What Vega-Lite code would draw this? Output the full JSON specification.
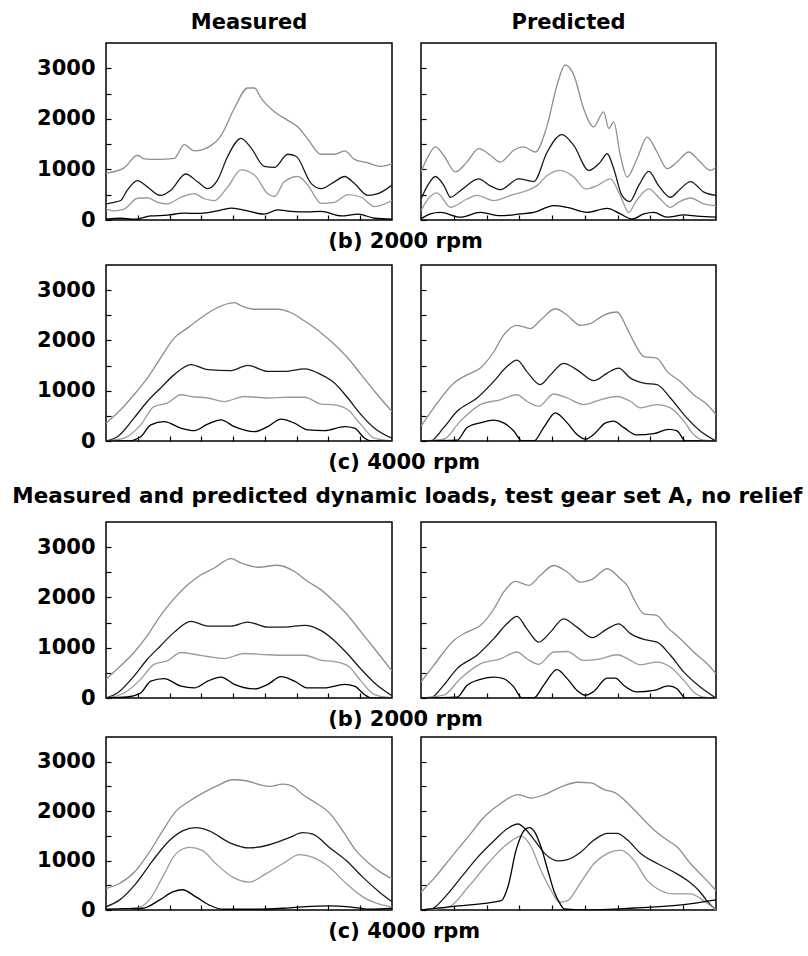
{
  "$schema": "https://vega.github.io/schema/vega-lite/v6.json",
  "padding": {"left": 12, "top": 11, "right": 0, "bottom": 0},
  "background": "white",
  "data": {"values": [
    {"p":"M1","s":"a","x":0,"y":925},{"p":"M1","s":"a","x":0.57,"y":1030},{"p":"M1","s":"a","x":0.99,"y":1280},{"p":"M1","s":"a","x":1.2,"y":1210},{"p":"M1","s":"a","x":1.62,"y":1200},{"p":"M1","s":"a","x":2.15,"y":1220},{"p":"M1","s":"a","x":2.46,"y":1490},{"p":"M1","s":"a","x":2.78,"y":1365},{"p":"M1","s":"a","x":3.3,"y":1470},{"p":"M1","s":"a","x":3.62,"y":1670},{"p":"M1","s":"a","x":4.04,"y":2210},{"p":"M1","s":"a","x":4.46,"y":2610},{"p":"M1","s":"a","x":4.67,"y":2610},{"p":"M1","s":"a","x":4.88,"y":2410},{"p":"M1","s":"a","x":5.3,"y":2140},{"p":"M1","s":"a","x":5.72,"y":1970},{"p":"M1","s":"a","x":6.04,"y":1840},{"p":"M1","s":"a","x":6.35,"y":1600},{"p":"M1","s":"a","x":6.77,"y":1300},{"p":"M1","s":"a","x":7.19,"y":1300},{"p":"M1","s":"a","x":7.51,"y":1365},{"p":"M1","s":"a","x":7.82,"y":1200},{"p":"M1","s":"a","x":8.24,"y":1130},{"p":"M1","s":"a","x":8.66,"y":1060},{"p":"M1","s":"a","x":9,"y":1115},
    {"p":"M1","s":"b","x":0,"y":320},{"p":"M1","s":"b","x":0.25,"y":350},{"p":"M1","s":"b","x":0.46,"y":385},{"p":"M1","s":"b","x":0.67,"y":590},{"p":"M1","s":"b","x":0.99,"y":780},{"p":"M1","s":"b","x":1.3,"y":655},{"p":"M1","s":"b","x":1.72,"y":485},{"p":"M1","s":"b","x":2.04,"y":590},{"p":"M1","s":"b","x":2.51,"y":910},{"p":"M1","s":"b","x":2.88,"y":755},{"p":"M1","s":"b","x":3.2,"y":620},{"p":"M1","s":"b","x":3.51,"y":790},{"p":"M1","s":"b","x":3.83,"y":1260},{"p":"M1","s":"b","x":4.25,"y":1615},{"p":"M1","s":"b","x":4.56,"y":1430},{"p":"M1","s":"b","x":4.98,"y":1060},{"p":"M1","s":"b","x":5.3,"y":1040},{"p":"M1","s":"b","x":5.72,"y":1300},{"p":"M1","s":"b","x":5.98,"y":1260},{"p":"M1","s":"b","x":6.46,"y":720},{"p":"M1","s":"b","x":6.77,"y":620},{"p":"M1","s":"b","x":7.19,"y":755},{"p":"M1","s":"b","x":7.51,"y":860},{"p":"M1","s":"b","x":7.82,"y":720},{"p":"M1","s":"b","x":8.24,"y":485},{"p":"M1","s":"b","x":8.56,"y":520},{"p":"M1","s":"b","x":9,"y":690},
    {"p":"M1","s":"c","x":0,"y":215},{"p":"M1","s":"c","x":0.25,"y":180},{"p":"M1","s":"c","x":0.57,"y":215},{"p":"M1","s":"c","x":0.99,"y":430},{"p":"M1","s":"c","x":1.3,"y":440},{"p":"M1","s":"c","x":1.62,"y":350},{"p":"M1","s":"c","x":1.93,"y":320},{"p":"M1","s":"c","x":2.36,"y":450},{"p":"M1","s":"c","x":2.78,"y":520},{"p":"M1","s":"c","x":3.09,"y":420},{"p":"M1","s":"c","x":3.41,"y":385},{"p":"M1","s":"c","x":3.83,"y":655},{"p":"M1","s":"c","x":4.25,"y":990},{"p":"M1","s":"c","x":4.67,"y":890},{"p":"M1","s":"c","x":5.09,"y":520},{"p":"M1","s":"c","x":5.3,"y":465},{"p":"M1","s":"c","x":5.61,"y":755},{"p":"M1","s":"c","x":6.04,"y":860},{"p":"M1","s":"c","x":6.35,"y":690},{"p":"M1","s":"c","x":6.77,"y":330},{"p":"M1","s":"c","x":7.19,"y":350},{"p":"M1","s":"c","x":7.61,"y":500},{"p":"M1","s":"c","x":8.03,"y":450},{"p":"M1","s":"c","x":8.45,"y":265},{"p":"M1","s":"c","x":9,"y":385},
    {"p":"M1","s":"d","x":0,"y":15},{"p":"M1","s":"d","x":0.46,"y":35},{"p":"M1","s":"d","x":0.88,"y":15},{"p":"M1","s":"d","x":1.41,"y":80},{"p":"M1","s":"d","x":1.93,"y":95},{"p":"M1","s":"d","x":2.46,"y":135},{"p":"M1","s":"d","x":2.99,"y":130},{"p":"M1","s":"d","x":3.51,"y":180},{"p":"M1","s":"d","x":3.93,"y":235},{"p":"M1","s":"d","x":4.35,"y":195},{"p":"M1","s":"d","x":4.98,"y":115},{"p":"M1","s":"d","x":5.4,"y":200},{"p":"M1","s":"d","x":5.82,"y":170},{"p":"M1","s":"d","x":6.35,"y":160},{"p":"M1","s":"d","x":6.77,"y":170},{"p":"M1","s":"d","x":7.4,"y":80},{"p":"M1","s":"d","x":7.93,"y":115},{"p":"M1","s":"d","x":8.45,"y":35},{"p":"M1","s":"d","x":9,"y":15},

    {"p":"P1","s":"a","x":0,"y":950},{"p":"P1","s":"a","x":0.18,"y":1210},{"p":"P1","s":"a","x":0.44,"y":1445},{"p":"P1","s":"a","x":0.69,"y":1280},{"p":"P1","s":"a","x":1.05,"y":950},{"p":"P1","s":"a","x":1.4,"y":1145},{"p":"P1","s":"a","x":1.76,"y":1410},{"p":"P1","s":"a","x":2.12,"y":1280},{"p":"P1","s":"a","x":2.42,"y":1145},{"p":"P1","s":"a","x":2.83,"y":1380},{"p":"P1","s":"a","x":3.13,"y":1445},{"p":"P1","s":"a","x":3.49,"y":1345},{"p":"P1","s":"a","x":3.85,"y":1875},{"p":"P1","s":"a","x":4.15,"y":2670},{"p":"P1","s":"a","x":4.4,"y":3065},{"p":"P1","s":"a","x":4.66,"y":2870},{"p":"P1","s":"a","x":4.96,"y":2205},{"p":"P1","s":"a","x":5.27,"y":1840},{"p":"P1","s":"a","x":5.57,"y":2140},{"p":"P1","s":"a","x":5.73,"y":1810},{"p":"P1","s":"a","x":5.88,"y":1940},{"p":"P1","s":"a","x":6.08,"y":1280},{"p":"P1","s":"a","x":6.29,"y":850},{"p":"P1","s":"a","x":6.59,"y":1210},{"p":"P1","s":"a","x":6.9,"y":1640},{"p":"P1","s":"a","x":7.2,"y":1345},{"p":"P1","s":"a","x":7.51,"y":1015},{"p":"P1","s":"a","x":7.81,"y":1145},{"p":"P1","s":"a","x":8.17,"y":1345},{"p":"P1","s":"a","x":8.52,"y":1145},{"p":"P1","s":"a","x":8.83,"y":980},{"p":"P1","s":"a","x":9,"y":1045},
    {"p":"P1","s":"b","x":0,"y":415},{"p":"P1","s":"b","x":0.2,"y":680},{"p":"P1","s":"b","x":0.44,"y":860},{"p":"P1","s":"b","x":0.7,"y":680},{"p":"P1","s":"b","x":0.9,"y":450},{"p":"P1","s":"b","x":1.2,"y":580},{"p":"P1","s":"b","x":1.76,"y":815},{"p":"P1","s":"b","x":2.1,"y":680},{"p":"P1","s":"b","x":2.42,"y":600},{"p":"P1","s":"b","x":2.98,"y":815},{"p":"P1","s":"b","x":3.44,"y":760},{"p":"P1","s":"b","x":3.85,"y":1345},{"p":"P1","s":"b","x":4.3,"y":1690},{"p":"P1","s":"b","x":4.66,"y":1475},{"p":"P1","s":"b","x":5.12,"y":980},{"p":"P1","s":"b","x":5.47,"y":1145},{"p":"P1","s":"b","x":5.68,"y":1310},{"p":"P1","s":"b","x":5.88,"y":1015},{"p":"P1","s":"b","x":6.13,"y":485},{"p":"P1","s":"b","x":6.37,"y":365},{"p":"P1","s":"b","x":6.64,"y":680},{"p":"P1","s":"b","x":6.95,"y":960},{"p":"P1","s":"b","x":7.25,"y":680},{"p":"P1","s":"b","x":7.61,"y":450},{"p":"P1","s":"b","x":7.91,"y":615},{"p":"P1","s":"b","x":8.22,"y":760},{"p":"P1","s":"b","x":8.63,"y":550},{"p":"P1","s":"b","x":9,"y":485},
    {"p":"P1","s":"c","x":0,"y":185},{"p":"P1","s":"c","x":0.18,"y":385},{"p":"P1","s":"c","x":0.49,"y":535},{"p":"P1","s":"c","x":0.9,"y":250},{"p":"P1","s":"c","x":1.4,"y":415},{"p":"P1","s":"c","x":1.71,"y":485},{"p":"P1","s":"c","x":2.22,"y":385},{"p":"P1","s":"c","x":2.73,"y":485},{"p":"P1","s":"c","x":3.23,"y":580},{"p":"P1","s":"c","x":3.54,"y":680},{"p":"P1","s":"c","x":3.85,"y":880},{"p":"P1","s":"c","x":4.25,"y":980},{"p":"P1","s":"c","x":4.66,"y":850},{"p":"P1","s":"c","x":5.02,"y":615},{"p":"P1","s":"c","x":5.37,"y":680},{"p":"P1","s":"c","x":5.78,"y":815},{"p":"P1","s":"c","x":6.08,"y":485},{"p":"P1","s":"c","x":6.34,"y":150},{"p":"P1","s":"c","x":6.54,"y":350},{"p":"P1","s":"c","x":6.95,"y":615},{"p":"P1","s":"c","x":7.3,"y":415},{"p":"P1","s":"c","x":7.61,"y":250},{"p":"P1","s":"c","x":7.86,"y":350},{"p":"P1","s":"c","x":8.22,"y":435},{"p":"P1","s":"c","x":8.63,"y":320},{"p":"P1","s":"c","x":9,"y":285},
    {"p":"P1","s":"d","x":0,"y":20},{"p":"P1","s":"d","x":0.28,"y":120},{"p":"P1","s":"d","x":0.59,"y":150},{"p":"P1","s":"d","x":1.2,"y":55},{"p":"P1","s":"d","x":1.81,"y":150},{"p":"P1","s":"d","x":2.42,"y":85},{"p":"P1","s":"d","x":3.03,"y":120},{"p":"P1","s":"d","x":3.44,"y":150},{"p":"P1","s":"d","x":4.05,"y":285},{"p":"P1","s":"d","x":4.46,"y":250},{"p":"P1","s":"d","x":5.07,"y":150},{"p":"P1","s":"d","x":5.68,"y":230},{"p":"P1","s":"d","x":6.08,"y":120},{"p":"P1","s":"d","x":6.44,"y":20},{"p":"P1","s":"d","x":6.8,"y":120},{"p":"P1","s":"d","x":7.1,"y":150},{"p":"P1","s":"d","x":7.51,"y":55},{"p":"P1","s":"d","x":8.02,"y":100},{"p":"P1","s":"d","x":8.42,"y":75},{"p":"P1","s":"d","x":9,"y":55},

    {"p":"M2","s":"a","x":0,"y":355},{"p":"M2","s":"a","x":0.46,"y":620},{"p":"M2","s":"a","x":0.88,"y":920},{"p":"M2","s":"a","x":1.3,"y":1250},{"p":"M2","s":"a","x":1.72,"y":1655},{"p":"M2","s":"a","x":2.15,"y":2050},{"p":"M2","s":"a","x":2.57,"y":2250},{"p":"M2","s":"a","x":2.99,"y":2450},{"p":"M2","s":"a","x":3.41,"y":2620},{"p":"M2","s":"a","x":4.04,"y":2750},{"p":"M2","s":"a","x":4.25,"y":2690},{"p":"M2","s":"a","x":4.67,"y":2620},{"p":"M2","s":"a","x":5.4,"y":2620},{"p":"M2","s":"a","x":5.83,"y":2550},{"p":"M2","s":"a","x":6.25,"y":2385},{"p":"M2","s":"a","x":6.77,"y":2150},{"p":"M2","s":"a","x":7.19,"y":1920},{"p":"M2","s":"a","x":7.61,"y":1650},{"p":"M2","s":"a","x":8.03,"y":1320},{"p":"M2","s":"a","x":8.45,"y":990},{"p":"M2","s":"a","x":9,"y":585},
    {"p":"M2","s":"b","x":0,"y":0},{"p":"M2","s":"b","x":0.36,"y":85},{"p":"M2","s":"b","x":0.88,"y":455},{"p":"M2","s":"b","x":1.3,"y":785},{"p":"M2","s":"b","x":1.72,"y":1055},{"p":"M2","s":"b","x":2.15,"y":1320},{"p":"M2","s":"b","x":2.67,"y":1520},{"p":"M2","s":"b","x":3.2,"y":1420},{"p":"M2","s":"b","x":3.93,"y":1400},{"p":"M2","s":"b","x":4.46,"y":1505},{"p":"M2","s":"b","x":5.09,"y":1385},{"p":"M2","s":"b","x":5.62,"y":1385},{"p":"M2","s":"b","x":6.25,"y":1435},{"p":"M2","s":"b","x":6.77,"y":1320},{"p":"M2","s":"b","x":7.19,"y":1155},{"p":"M2","s":"b","x":7.61,"y":855},{"p":"M2","s":"b","x":8.03,"y":520},{"p":"M2","s":"b","x":8.45,"y":255},{"p":"M2","s":"b","x":9,"y":55},
    {"p":"M2","s":"c","x":0,"y":0},{"p":"M2","s":"c","x":0.57,"y":55},{"p":"M2","s":"c","x":1.09,"y":320},{"p":"M2","s":"c","x":1.51,"y":685},{"p":"M2","s":"c","x":1.93,"y":755},{"p":"M2","s":"c","x":2.36,"y":920},{"p":"M2","s":"c","x":2.67,"y":885},{"p":"M2","s":"c","x":3.2,"y":855},{"p":"M2","s":"c","x":3.72,"y":785},{"p":"M2","s":"c","x":4.35,"y":885},{"p":"M2","s":"c","x":5.09,"y":855},{"p":"M2","s":"c","x":5.72,"y":870},{"p":"M2","s":"c","x":6.25,"y":870},{"p":"M2","s":"c","x":6.77,"y":735},{"p":"M2","s":"c","x":7.19,"y":720},{"p":"M2","s":"c","x":7.61,"y":620},{"p":"M2","s":"c","x":8.03,"y":320},{"p":"M2","s":"c","x":8.45,"y":55},{"p":"M2","s":"c","x":9,"y":0},
    {"p":"M2","s":"d","x":0,"y":0},{"p":"M2","s":"d","x":0.67,"y":0},{"p":"M2","s":"d","x":1.09,"y":85},{"p":"M2","s":"d","x":1.41,"y":320},{"p":"M2","s":"d","x":1.83,"y":385},{"p":"M2","s":"d","x":2.36,"y":255},{"p":"M2","s":"d","x":2.78,"y":205},{"p":"M2","s":"d","x":3.2,"y":335},{"p":"M2","s":"d","x":3.62,"y":420},{"p":"M2","s":"d","x":4.04,"y":285},{"p":"M2","s":"d","x":4.67,"y":185},{"p":"M2","s":"d","x":5.09,"y":285},{"p":"M2","s":"d","x":5.51,"y":435},{"p":"M2","s":"d","x":5.93,"y":355},{"p":"M2","s":"d","x":6.35,"y":220},{"p":"M2","s":"d","x":6.88,"y":205},{"p":"M2","s":"d","x":7.51,"y":285},{"p":"M2","s":"d","x":7.82,"y":255},{"p":"M2","s":"d","x":8.14,"y":55},{"p":"M2","s":"d","x":8.35,"y":0},{"p":"M2","s":"d","x":9,"y":0},

    {"p":"P2","s":"a","x":0,"y":295},{"p":"P2","s":"a","x":0.39,"y":660},{"p":"P2","s":"a","x":1,"y":1150},{"p":"P2","s":"a","x":1.4,"y":1315},{"p":"P2","s":"a","x":1.81,"y":1450},{"p":"P2","s":"a","x":2.22,"y":1775},{"p":"P2","s":"a","x":2.52,"y":2105},{"p":"P2","s":"a","x":2.93,"y":2300},{"p":"P2","s":"a","x":3.34,"y":2235},{"p":"P2","s":"a","x":3.64,"y":2400},{"p":"P2","s":"a","x":4.1,"y":2630},{"p":"P2","s":"a","x":4.46,"y":2500},{"p":"P2","s":"a","x":4.86,"y":2300},{"p":"P2","s":"a","x":5.17,"y":2335},{"p":"P2","s":"a","x":5.57,"y":2500},{"p":"P2","s":"a","x":5.98,"y":2565},{"p":"P2","s":"a","x":6.29,"y":2235},{"p":"P2","s":"a","x":6.49,"y":1975},{"p":"P2","s":"a","x":6.8,"y":1680},{"p":"P2","s":"a","x":7.2,"y":1645},{"p":"P2","s":"a","x":7.51,"y":1380},{"p":"P2","s":"a","x":7.91,"y":1185},{"p":"P2","s":"a","x":8.32,"y":920},{"p":"P2","s":"a","x":8.73,"y":725},{"p":"P2","s":"a","x":9,"y":525},
    {"p":"P2","s":"b","x":0,"y":0},{"p":"P2","s":"b","x":0.28,"y":0},{"p":"P2","s":"b","x":0.69,"y":265},{"p":"P2","s":"b","x":1.1,"y":590},{"p":"P2","s":"b","x":1.71,"y":855},{"p":"P2","s":"b","x":2.22,"y":1185},{"p":"P2","s":"b","x":2.62,"y":1480},{"p":"P2","s":"b","x":2.93,"y":1610},{"p":"P2","s":"b","x":3.23,"y":1380},{"p":"P2","s":"b","x":3.64,"y":1120},{"p":"P2","s":"b","x":3.95,"y":1315},{"p":"P2","s":"b","x":4.35,"y":1545},{"p":"P2","s":"b","x":4.76,"y":1415},{"p":"P2","s":"b","x":5.27,"y":1200},{"p":"P2","s":"b","x":5.68,"y":1350},{"p":"P2","s":"b","x":6.03,"y":1450},{"p":"P2","s":"b","x":6.39,"y":1250},{"p":"P2","s":"b","x":6.8,"y":1150},{"p":"P2","s":"b","x":7.2,"y":1120},{"p":"P2","s":"b","x":7.61,"y":855},{"p":"P2","s":"b","x":8.02,"y":525},{"p":"P2","s":"b","x":8.52,"y":200},{"p":"P2","s":"b","x":9,"y":0},
    {"p":"P2","s":"c","x":0,"y":0},{"p":"P2","s":"c","x":0.69,"y":35},{"p":"P2","s":"c","x":1.2,"y":395},{"p":"P2","s":"c","x":1.81,"y":725},{"p":"P2","s":"c","x":2.42,"y":820},{"p":"P2","s":"c","x":2.93,"y":920},{"p":"P2","s":"c","x":3.23,"y":790},{"p":"P2","s":"c","x":3.59,"y":690},{"p":"P2","s":"c","x":4.05,"y":935},{"p":"P2","s":"c","x":4.46,"y":855},{"p":"P2","s":"c","x":4.96,"y":725},{"p":"P2","s":"c","x":5.47,"y":820},{"p":"P2","s":"c","x":5.98,"y":885},{"p":"P2","s":"c","x":6.39,"y":790},{"p":"P2","s":"c","x":6.69,"y":660},{"p":"P2","s":"c","x":7.2,"y":725},{"p":"P2","s":"c","x":7.61,"y":660},{"p":"P2","s":"c","x":8.02,"y":395},{"p":"P2","s":"c","x":8.32,"y":130},{"p":"P2","s":"c","x":8.63,"y":15},{"p":"P2","s":"c","x":9,"y":0},
    {"p":"P2","s":"d","x":0,"y":0},{"p":"P2","s":"d","x":1.1,"y":15},{"p":"P2","s":"d","x":1.4,"y":265},{"p":"P2","s":"d","x":1.81,"y":360},{"p":"P2","s":"d","x":2.22,"y":415},{"p":"P2","s":"d","x":2.52,"y":360},{"p":"P2","s":"d","x":2.83,"y":200},{"p":"P2","s":"d","x":3.08,"y":0},{"p":"P2","s":"d","x":3.44,"y":0},{"p":"P2","s":"d","x":3.74,"y":265},{"p":"P2","s":"d","x":4.1,"y":560},{"p":"P2","s":"d","x":4.46,"y":360},{"p":"P2","s":"d","x":4.76,"y":130},{"p":"P2","s":"d","x":5.02,"y":35},{"p":"P2","s":"d","x":5.27,"y":130},{"p":"P2","s":"d","x":5.63,"y":360},{"p":"P2","s":"d","x":5.88,"y":395},{"p":"P2","s":"d","x":6.19,"y":265},{"p":"P2","s":"d","x":6.59,"y":120},{"p":"P2","s":"d","x":7.1,"y":145},{"p":"P2","s":"d","x":7.56,"y":230},{"p":"P2","s":"d","x":7.81,"y":200},{"p":"P2","s":"d","x":8.07,"y":0},{"p":"P2","s":"d","x":9,"y":0},

    {"p":"M3","s":"a","x":0,"y":370},{"p":"M3","s":"a","x":0.46,"y":640},{"p":"M3","s":"a","x":0.88,"y":905},{"p":"M3","s":"a","x":1.3,"y":1240},{"p":"M3","s":"a","x":1.72,"y":1645},{"p":"M3","s":"a","x":2.15,"y":1980},{"p":"M3","s":"a","x":2.57,"y":2250},{"p":"M3","s":"a","x":2.99,"y":2450},{"p":"M3","s":"a","x":3.41,"y":2585},{"p":"M3","s":"a","x":3.93,"y":2770},{"p":"M3","s":"a","x":4.25,"y":2685},{"p":"M3","s":"a","x":4.77,"y":2600},{"p":"M3","s":"a","x":5.4,"y":2640},{"p":"M3","s":"a","x":5.93,"y":2515},{"p":"M3","s":"a","x":6.35,"y":2315},{"p":"M3","s":"a","x":6.77,"y":2150},{"p":"M3","s":"a","x":7.19,"y":1910},{"p":"M3","s":"a","x":7.61,"y":1645},{"p":"M3","s":"a","x":8.03,"y":1310},{"p":"M3","s":"a","x":8.45,"y":980},{"p":"M3","s":"a","x":9,"y":535},
    {"p":"M3","s":"b","x":0,"y":0},{"p":"M3","s":"b","x":0.36,"y":100},{"p":"M3","s":"b","x":0.88,"y":435},{"p":"M3","s":"b","x":1.3,"y":770},{"p":"M3","s":"b","x":1.72,"y":1040},{"p":"M3","s":"b","x":2.15,"y":1310},{"p":"M3","s":"b","x":2.67,"y":1525},{"p":"M3","s":"b","x":3.2,"y":1430},{"p":"M3","s":"b","x":3.93,"y":1430},{"p":"M3","s":"b","x":4.46,"y":1510},{"p":"M3","s":"b","x":5.09,"y":1410},{"p":"M3","s":"b","x":5.62,"y":1410},{"p":"M3","s":"b","x":6.25,"y":1445},{"p":"M3","s":"b","x":6.77,"y":1340},{"p":"M3","s":"b","x":7.19,"y":1140},{"p":"M3","s":"b","x":7.61,"y":870},{"p":"M3","s":"b","x":8.03,"y":570},{"p":"M3","s":"b","x":8.45,"y":300},{"p":"M3","s":"b","x":9,"y":45},
    {"p":"M3","s":"c","x":0,"y":0},{"p":"M3","s":"c","x":0.57,"y":100},{"p":"M3","s":"c","x":1.09,"y":370},{"p":"M3","s":"c","x":1.51,"y":670},{"p":"M3","s":"c","x":1.93,"y":740},{"p":"M3","s":"c","x":2.36,"y":905},{"p":"M3","s":"c","x":2.78,"y":870},{"p":"M3","s":"c","x":3.2,"y":825},{"p":"M3","s":"c","x":3.72,"y":785},{"p":"M3","s":"c","x":4.35,"y":885},{"p":"M3","s":"c","x":5.09,"y":860},{"p":"M3","s":"c","x":5.72,"y":850},{"p":"M3","s":"c","x":6.25,"y":850},{"p":"M3","s":"c","x":6.77,"y":750},{"p":"M3","s":"c","x":7.19,"y":725},{"p":"M3","s":"c","x":7.61,"y":640},{"p":"M3","s":"c","x":8.03,"y":335},{"p":"M3","s":"c","x":8.45,"y":65},{"p":"M3","s":"c","x":9,"y":0},
    {"p":"M3","s":"d","x":0,"y":0},{"p":"M3","s":"d","x":0.67,"y":20},{"p":"M3","s":"d","x":1.09,"y":100},{"p":"M3","s":"d","x":1.41,"y":335},{"p":"M3","s":"d","x":1.83,"y":385},{"p":"M3","s":"d","x":2.36,"y":235},{"p":"M3","s":"d","x":2.78,"y":200},{"p":"M3","s":"d","x":3.2,"y":335},{"p":"M3","s":"d","x":3.62,"y":415},{"p":"M3","s":"d","x":4.04,"y":270},{"p":"M3","s":"d","x":4.67,"y":180},{"p":"M3","s":"d","x":5.09,"y":270},{"p":"M3","s":"d","x":5.51,"y":425},{"p":"M3","s":"d","x":5.93,"y":335},{"p":"M3","s":"d","x":6.35,"y":200},{"p":"M3","s":"d","x":6.88,"y":200},{"p":"M3","s":"d","x":7.51,"y":270},{"p":"M3","s":"d","x":7.82,"y":235},{"p":"M3","s":"d","x":8.14,"y":65},{"p":"M3","s":"d","x":8.35,"y":0},{"p":"M3","s":"d","x":9,"y":0},

    {"p":"P3","s":"a","x":0,"y":320},{"p":"P3","s":"a","x":0.39,"y":650},{"p":"P3","s":"a","x":1,"y":1145},{"p":"P3","s":"a","x":1.4,"y":1310},{"p":"P3","s":"a","x":1.81,"y":1440},{"p":"P3","s":"a","x":2.22,"y":1770},{"p":"P3","s":"a","x":2.52,"y":2105},{"p":"P3","s":"a","x":2.88,"y":2320},{"p":"P3","s":"a","x":3.29,"y":2240},{"p":"P3","s":"a","x":3.64,"y":2440},{"p":"P3","s":"a","x":4.05,"y":2635},{"p":"P3","s":"a","x":4.46,"y":2505},{"p":"P3","s":"a","x":4.86,"y":2305},{"p":"P3","s":"a","x":5.22,"y":2360},{"p":"P3","s":"a","x":5.68,"y":2570},{"p":"P3","s":"a","x":6.08,"y":2370},{"p":"P3","s":"a","x":6.29,"y":2240},{"p":"P3","s":"a","x":6.49,"y":1975},{"p":"P3","s":"a","x":6.8,"y":1675},{"p":"P3","s":"a","x":7.2,"y":1640},{"p":"P3","s":"a","x":7.51,"y":1410},{"p":"P3","s":"a","x":7.91,"y":1180},{"p":"P3","s":"a","x":8.32,"y":915},{"p":"P3","s":"a","x":8.73,"y":680},{"p":"P3","s":"a","x":9,"y":485},
    {"p":"P3","s":"b","x":0,"y":0},{"p":"P3","s":"b","x":0.28,"y":0},{"p":"P3","s":"b","x":0.69,"y":250},{"p":"P3","s":"b","x":1.1,"y":585},{"p":"P3","s":"b","x":1.71,"y":850},{"p":"P3","s":"b","x":2.22,"y":1180},{"p":"P3","s":"b","x":2.62,"y":1475},{"p":"P3","s":"b","x":2.93,"y":1625},{"p":"P3","s":"b","x":3.23,"y":1375},{"p":"P3","s":"b","x":3.59,"y":1110},{"p":"P3","s":"b","x":3.95,"y":1310},{"p":"P3","s":"b","x":4.35,"y":1575},{"p":"P3","s":"b","x":4.76,"y":1410},{"p":"P3","s":"b","x":5.22,"y":1200},{"p":"P3","s":"b","x":5.68,"y":1375},{"p":"P3","s":"b","x":6.03,"y":1475},{"p":"P3","s":"b","x":6.39,"y":1280},{"p":"P3","s":"b","x":6.8,"y":1165},{"p":"P3","s":"b","x":7.2,"y":1110},{"p":"P3","s":"b","x":7.61,"y":850},{"p":"P3","s":"b","x":8.02,"y":515},{"p":"P3","s":"b","x":8.52,"y":220},{"p":"P3","s":"b","x":9,"y":0},
    {"p":"P3","s":"c","x":0,"y":0},{"p":"P3","s":"c","x":0.69,"y":55},{"p":"P3","s":"c","x":1.2,"y":385},{"p":"P3","s":"c","x":1.81,"y":680},{"p":"P3","s":"c","x":2.42,"y":780},{"p":"P3","s":"c","x":2.93,"y":915},{"p":"P3","s":"c","x":3.23,"y":780},{"p":"P3","s":"c","x":3.59,"y":670},{"p":"P3","s":"c","x":4.05,"y":915},{"p":"P3","s":"c","x":4.46,"y":925},{"p":"P3","s":"c","x":4.96,"y":750},{"p":"P3","s":"c","x":5.47,"y":780},{"p":"P3","s":"c","x":5.98,"y":860},{"p":"P3","s":"c","x":6.39,"y":750},{"p":"P3","s":"c","x":6.69,"y":660},{"p":"P3","s":"c","x":7.2,"y":715},{"p":"P3","s":"c","x":7.61,"y":615},{"p":"P3","s":"c","x":8.02,"y":350},{"p":"P3","s":"c","x":8.32,"y":120},{"p":"P3","s":"c","x":8.63,"y":15},{"p":"P3","s":"c","x":9,"y":0},
    {"p":"P3","s":"d","x":0,"y":0},{"p":"P3","s":"d","x":1.1,"y":15},{"p":"P3","s":"d","x":1.4,"y":250},{"p":"P3","s":"d","x":1.81,"y":370},{"p":"P3","s":"d","x":2.22,"y":415},{"p":"P3","s":"d","x":2.52,"y":385},{"p":"P3","s":"d","x":2.83,"y":220},{"p":"P3","s":"d","x":3.08,"y":0},{"p":"P3","s":"d","x":3.44,"y":0},{"p":"P3","s":"d","x":3.74,"y":250},{"p":"P3","s":"d","x":4.15,"y":565},{"p":"P3","s":"d","x":4.46,"y":385},{"p":"P3","s":"d","x":4.76,"y":150},{"p":"P3","s":"d","x":5.02,"y":55},{"p":"P3","s":"d","x":5.27,"y":130},{"p":"P3","s":"d","x":5.68,"y":395},{"p":"P3","s":"d","x":5.93,"y":395},{"p":"P3","s":"d","x":6.19,"y":250},{"p":"P3","s":"d","x":6.59,"y":120},{"p":"P3","s":"d","x":7.1,"y":150},{"p":"P3","s":"d","x":7.56,"y":240},{"p":"P3","s":"d","x":7.81,"y":185},{"p":"P3","s":"d","x":8.07,"y":0},{"p":"P3","s":"d","x":9,"y":0},

    {"p":"M4","s":"a","x":0,"y":435},{"p":"M4","s":"a","x":0.42,"y":535},{"p":"M4","s":"a","x":0.94,"y":800},{"p":"M4","s":"a","x":1.36,"y":1165},{"p":"M4","s":"a","x":1.78,"y":1600},{"p":"M4","s":"a","x":2.2,"y":2000},{"p":"M4","s":"a","x":2.62,"y":2200},{"p":"M4","s":"a","x":3.04,"y":2365},{"p":"M4","s":"a","x":3.46,"y":2500},{"p":"M4","s":"a","x":3.99,"y":2635},{"p":"M4","s":"a","x":4.41,"y":2615},{"p":"M4","s":"a","x":4.83,"y":2535},{"p":"M4","s":"a","x":5.14,"y":2500},{"p":"M4","s":"a","x":5.56,"y":2545},{"p":"M4","s":"a","x":5.88,"y":2500},{"p":"M4","s":"a","x":6.19,"y":2335},{"p":"M4","s":"a","x":6.61,"y":2165},{"p":"M4","s":"a","x":7.03,"y":1965},{"p":"M4","s":"a","x":7.45,"y":1600},{"p":"M4","s":"a","x":7.87,"y":1200},{"p":"M4","s":"a","x":8.29,"y":935},{"p":"M4","s":"a","x":8.71,"y":735},{"p":"M4","s":"a","x":9,"y":635},
    {"p":"M4","s":"b","x":0,"y":65},{"p":"M4","s":"b","x":0.42,"y":200},{"p":"M4","s":"b","x":0.94,"y":535},{"p":"M4","s":"b","x":1.47,"y":1000},{"p":"M4","s":"b","x":1.99,"y":1400},{"p":"M4","s":"b","x":2.41,"y":1600},{"p":"M4","s":"b","x":2.83,"y":1665},{"p":"M4","s":"b","x":3.25,"y":1600},{"p":"M4","s":"b","x":3.88,"y":1365},{"p":"M4","s":"b","x":4.51,"y":1255},{"p":"M4","s":"b","x":5.14,"y":1320},{"p":"M4","s":"b","x":5.77,"y":1465},{"p":"M4","s":"b","x":6.19,"y":1565},{"p":"M4","s":"b","x":6.51,"y":1535},{"p":"M4","s":"b","x":7.03,"y":1265},{"p":"M4","s":"b","x":7.56,"y":1000},{"p":"M4","s":"b","x":8.08,"y":665},{"p":"M4","s":"b","x":8.6,"y":365},{"p":"M4","s":"b","x":9,"y":165},
    {"p":"M4","s":"c","x":0,"y":0},{"p":"M4","s":"c","x":0.94,"y":35},{"p":"M4","s":"c","x":1.36,"y":200},{"p":"M4","s":"c","x":1.78,"y":665},{"p":"M4","s":"c","x":2.2,"y":1135},{"p":"M4","s":"c","x":2.62,"y":1265},{"p":"M4","s":"c","x":3.04,"y":1200},{"p":"M4","s":"c","x":3.46,"y":935},{"p":"M4","s":"c","x":3.99,"y":665},{"p":"M4","s":"c","x":4.51,"y":565},{"p":"M4","s":"c","x":5.04,"y":735},{"p":"M4","s":"c","x":5.56,"y":935},{"p":"M4","s":"c","x":6.09,"y":1120},{"p":"M4","s":"c","x":6.51,"y":1065},{"p":"M4","s":"c","x":7.03,"y":865},{"p":"M4","s":"c","x":7.56,"y":535},{"p":"M4","s":"c","x":8.08,"y":265},{"p":"M4","s":"c","x":8.6,"y":120},{"p":"M4","s":"c","x":9,"y":65},
    {"p":"M4","s":"d","x":0,"y":15},{"p":"M4","s":"d","x":1.15,"y":35},{"p":"M4","s":"d","x":1.68,"y":200},{"p":"M4","s":"d","x":2.1,"y":365},{"p":"M4","s":"d","x":2.41,"y":410},{"p":"M4","s":"d","x":2.83,"y":265},{"p":"M4","s":"d","x":3.25,"y":100},{"p":"M4","s":"d","x":3.67,"y":15},{"p":"M4","s":"d","x":4.72,"y":15},{"p":"M4","s":"d","x":5.56,"y":35},{"p":"M4","s":"d","x":6.19,"y":65},{"p":"M4","s":"d","x":7.03,"y":85},{"p":"M4","s":"d","x":7.66,"y":65},{"p":"M4","s":"d","x":8.29,"y":15},{"p":"M4","s":"d","x":9,"y":35},

    {"p":"P4","s":"a","x":0,"y":360},{"p":"P4","s":"a","x":0.43,"y":665},{"p":"P4","s":"a","x":0.93,"y":1075},{"p":"P4","s":"a","x":1.44,"y":1485},{"p":"P4","s":"a","x":1.94,"y":1890},{"p":"P4","s":"a","x":2.45,"y":2165},{"p":"P4","s":"a","x":2.96,"y":2335},{"p":"P4","s":"a","x":3.36,"y":2265},{"p":"P4","s":"a","x":3.77,"y":2335},{"p":"P4","s":"a","x":4.27,"y":2490},{"p":"P4","s":"a","x":4.78,"y":2585},{"p":"P4","s":"a","x":5.18,"y":2570},{"p":"P4","s":"a","x":5.59,"y":2435},{"p":"P4","s":"a","x":5.94,"y":2365},{"p":"P4","s":"a","x":6.5,"y":2030},{"p":"P4","s":"a","x":7.11,"y":1620},{"p":"P4","s":"a","x":7.51,"y":1415},{"p":"P4","s":"a","x":7.81,"y":1280},{"p":"P4","s":"a","x":8.22,"y":940},{"p":"P4","s":"a","x":8.62,"y":665},{"p":"P4","s":"a","x":9,"y":395},
    {"p":"P4","s":"b","x":0,"y":0},{"p":"P4","s":"b","x":0.32,"y":20},{"p":"P4","s":"b","x":0.73,"y":260},{"p":"P4","s":"b","x":1.23,"y":665},{"p":"P4","s":"b","x":1.74,"y":1075},{"p":"P4","s":"b","x":2.25,"y":1415},{"p":"P4","s":"b","x":2.65,"y":1655},{"p":"P4","s":"b","x":2.96,"y":1740},{"p":"P4","s":"b","x":3.21,"y":1620},{"p":"P4","s":"b","x":3.46,"y":1415},{"p":"P4","s":"b","x":3.77,"y":1145},{"p":"P4","s":"b","x":4.17,"y":995},{"p":"P4","s":"b","x":4.47,"y":1020},{"p":"P4","s":"b","x":4.88,"y":1175},{"p":"P4","s":"b","x":5.28,"y":1415},{"p":"P4","s":"b","x":5.69,"y":1550},{"p":"P4","s":"b","x":5.99,"y":1550},{"p":"P4","s":"b","x":6.3,"y":1415},{"p":"P4","s":"b","x":6.7,"y":1145},{"p":"P4","s":"b","x":7.21,"y":940},{"p":"P4","s":"b","x":7.71,"y":770},{"p":"P4","s":"b","x":8.12,"y":600},{"p":"P4","s":"b","x":8.52,"y":360},{"p":"P4","s":"b","x":8.72,"y":190},{"p":"P4","s":"b","x":9,"y":0},
    {"p":"P4","s":"c","x":0,"y":0},{"p":"P4","s":"c","x":0.83,"y":55},{"p":"P4","s":"c","x":1.44,"y":465},{"p":"P4","s":"c","x":2.04,"y":940},{"p":"P4","s":"c","x":2.65,"y":1345},{"p":"P4","s":"c","x":3.06,"y":1495},{"p":"P4","s":"c","x":3.36,"y":1280},{"p":"P4","s":"c","x":3.66,"y":800},{"p":"P4","s":"c","x":3.97,"y":395},{"p":"P4","s":"c","x":4.22,"y":155},{"p":"P4","s":"c","x":4.47,"y":190},{"p":"P4","s":"c","x":4.88,"y":565},{"p":"P4","s":"c","x":5.28,"y":940},{"p":"P4","s":"c","x":5.69,"y":1145},{"p":"P4","s":"c","x":6.09,"y":1210},{"p":"P4","s":"c","x":6.5,"y":1005},{"p":"P4","s":"c","x":6.9,"y":600},{"p":"P4","s":"c","x":7.31,"y":395},{"p":"P4","s":"c","x":7.71,"y":325},{"p":"P4","s":"c","x":8.22,"y":325},{"p":"P4","s":"c","x":8.62,"y":190},{"p":"P4","s":"c","x":9,"y":0},
    {"p":"P4","s":"d","x":0,"y":0},{"p":"P4","s":"d","x":0.93,"y":70},{"p":"P4","s":"d","x":2.45,"y":190},{"p":"P4","s":"d","x":2.65,"y":465},{"p":"P4","s":"d","x":2.9,"y":1210},{"p":"P4","s":"d","x":3.16,"y":1620},{"p":"P4","s":"d","x":3.31,"y":1665},{"p":"P4","s":"d","x":3.46,"y":1585},{"p":"P4","s":"d","x":3.66,"y":1280},{"p":"P4","s":"d","x":3.87,"y":800},{"p":"P4","s":"d","x":4.07,"y":360},{"p":"P4","s":"d","x":4.22,"y":155},{"p":"P4","s":"d","x":4.37,"y":20},{"p":"P4","s":"d","x":4.98,"y":0},{"p":"P4","s":"d","x":6.5,"y":40},{"p":"P4","s":"d","x":8.02,"y":110},{"p":"P4","s":"d","x":9,"y":205}
  ]},
  "spacing": 12,
  "vconcat": [
    {
      "spacing": 26,
      "title": {"text": "(b) 2000 rpm", "orient": "bottom", "anchor": "start", "frame": "bounds", "dx": 316, "offset": 0},
      "hconcat": [
        {"width": 286, "height": 177, "title": {"text": "Measured", "offset": 10},
         "transform": [{"filter": "datum.p === 'M1'"}],
         "mark": {"type": "line", "interpolate": "monotone", "strokeWidth": 1.3, "clip": true},
         "encoding": {
           "x": {"field": "x", "type": "quantitative", "scale": {"domain": [0, 9], "nice": false, "zero": false}, "axis": {"title": null, "values": [1,2,3,4,5,6,7,8], "labels": false}},
           "y": {"field": "y", "type": "quantitative", "scale": {"domain": [0, 3500], "nice": false}, "axis": {"title": null, "values": [0,500,1000,1500,2000,2500,3000], "format": "d", "labelExpr": "datum.value % 1000 === 0 ? datum.label : ''", "minExtent": 98}},
           "color": {"field": "s", "type": "nominal", "scale": {"domain": ["a","b","c","d"], "range": ["#8e8e8e","#1a1a1a","#9a9a9a","#000000"]}, "legend": null}
         }},
        {"width": 295, "height": 177, "title": {"text": "Predicted", "offset": 10},
         "transform": [{"filter": "datum.p === 'P1'"}],
         "mark": {"type": "line", "interpolate": "monotone", "strokeWidth": 1.3, "clip": true},
         "encoding": {
           "x": {"field": "x", "type": "quantitative", "scale": {"domain": [0, 9], "nice": false, "zero": false}, "axis": {"title": null, "values": [1,2,3,4,5,6,7,8], "labels": false}},
           "y": {"field": "y", "type": "quantitative", "scale": {"domain": [0, 3500], "nice": false}, "axis": {"title": null, "values": [0,500,1000,1500,2000,2500,3000], "labels": false, "minExtent": 0}},
           "color": {"field": "s", "type": "nominal", "scale": {"domain": ["a","b","c","d"], "range": ["#8e8e8e","#1a1a1a","#9a9a9a","#000000"]}, "legend": null}
         }}
      ]
    },
    {
      "spacing": 26,
      "title": {"text": "(c) 4000 rpm", "orient": "bottom", "anchor": "start", "frame": "bounds", "dx": 316, "offset": 0},
      "hconcat": [
        {"width": 286, "height": 176,
         "transform": [{"filter": "datum.p === 'M2'"}],
         "mark": {"type": "line", "interpolate": "monotone", "strokeWidth": 1.3, "clip": true},
         "encoding": {
           "x": {"field": "x", "type": "quantitative", "scale": {"domain": [0, 9], "nice": false, "zero": false}, "axis": {"title": null, "values": [1,2,3,4,5,6,7,8], "labels": false}},
           "y": {"field": "y", "type": "quantitative", "scale": {"domain": [0, 3500], "nice": false}, "axis": {"title": null, "values": [0,500,1000,1500,2000,2500,3000], "format": "d", "labelExpr": "datum.value % 1000 === 0 ? datum.label : ''", "minExtent": 98}},
           "color": {"field": "s", "type": "nominal", "scale": {"domain": ["a","b","c","d"], "range": ["#8e8e8e","#1a1a1a","#9a9a9a","#000000"]}, "legend": null}
         }},
        {"width": 295, "height": 176,
         "transform": [{"filter": "datum.p === 'P2'"}],
         "mark": {"type": "line", "interpolate": "monotone", "strokeWidth": 1.3, "clip": true},
         "encoding": {
           "x": {"field": "x", "type": "quantitative", "scale": {"domain": [0, 9], "nice": false, "zero": false}, "axis": {"title": null, "values": [1,2,3,4,5,6,7,8], "labels": false}},
           "y": {"field": "y", "type": "quantitative", "scale": {"domain": [0, 3500], "nice": false}, "axis": {"title": null, "values": [0,500,1000,1500,2000,2500,3000], "labels": false, "minExtent": 0}},
           "color": {"field": "s", "type": "nominal", "scale": {"domain": ["a","b","c","d"], "range": ["#8e8e8e","#1a1a1a","#9a9a9a","#000000"]}, "legend": null}
         }}
      ]
    },
    {
      "title": {"text": "Measured and predicted dynamic loads, test gear set A, no relief", "anchor": "start", "frame": "bounds", "offset": 14, "fontSize": 21.5},
      "spacing": 6,
      "vconcat": [
        {
          "spacing": 26,
          "title": {"text": "(b) 2000 rpm", "orient": "bottom", "anchor": "start", "frame": "bounds", "dx": 316, "offset": 0},
          "hconcat": [
            {"width": 286, "height": 176,
             "transform": [{"filter": "datum.p === 'M3'"}],
             "mark": {"type": "line", "interpolate": "monotone", "strokeWidth": 1.3, "clip": true},
             "encoding": {
               "x": {"field": "x", "type": "quantitative", "scale": {"domain": [0, 9], "nice": false, "zero": false}, "axis": {"title": null, "values": [1,2,3,4,5,6,7,8], "labels": false}},
               "y": {"field": "y", "type": "quantitative", "scale": {"domain": [0, 3500], "nice": false}, "axis": {"title": null, "values": [0,500,1000,1500,2000,2500,3000], "format": "d", "labelExpr": "datum.value % 1000 === 0 ? datum.label : ''", "minExtent": 98}},
               "color": {"field": "s", "type": "nominal", "scale": {"domain": ["a","b","c","d"], "range": ["#8e8e8e","#1a1a1a","#9a9a9a","#000000"]}, "legend": null}
             }},
            {"width": 295, "height": 176,
             "transform": [{"filter": "datum.p === 'P3'"}],
             "mark": {"type": "line", "interpolate": "monotone", "strokeWidth": 1.3, "clip": true},
             "encoding": {
               "x": {"field": "x", "type": "quantitative", "scale": {"domain": [0, 9], "nice": false, "zero": false}, "axis": {"title": null, "values": [1,2,3,4,5,6,7,8], "labels": false}},
               "y": {"field": "y", "type": "quantitative", "scale": {"domain": [0, 3500], "nice": false}, "axis": {"title": null, "values": [0,500,1000,1500,2000,2500,3000], "labels": false, "minExtent": 0}},
               "color": {"field": "s", "type": "nominal", "scale": {"domain": ["a","b","c","d"], "range": ["#8e8e8e","#1a1a1a","#9a9a9a","#000000"]}, "legend": null}
             }}
          ]
        },
        {
          "spacing": 26,
          "title": {"text": "(c) 4000 rpm", "orient": "bottom", "anchor": "start", "frame": "bounds", "dx": 316, "offset": 0},
          "hconcat": [
            {"width": 286, "height": 173,
             "transform": [{"filter": "datum.p === 'M4'"}],
             "mark": {"type": "line", "interpolate": "monotone", "strokeWidth": 1.3, "clip": true},
             "encoding": {
               "x": {"field": "x", "type": "quantitative", "scale": {"domain": [0, 9], "nice": false, "zero": false}, "axis": {"title": null, "values": [1,2,3,4,5,6,7,8], "labels": false}},
               "y": {"field": "y", "type": "quantitative", "scale": {"domain": [0, 3500], "nice": false}, "axis": {"title": null, "values": [0,500,1000,1500,2000,2500,3000], "format": "d", "labelExpr": "datum.value % 1000 === 0 ? datum.label : ''", "minExtent": 98}},
               "color": {"field": "s", "type": "nominal", "scale": {"domain": ["a","b","c","d"], "range": ["#8e8e8e","#1a1a1a","#9a9a9a","#000000"]}, "legend": null}
             }},
            {"width": 295, "height": 173,
             "transform": [{"filter": "datum.p === 'P4'"}],
             "mark": {"type": "line", "interpolate": "monotone", "strokeWidth": 1.3, "clip": true},
             "encoding": {
               "x": {"field": "x", "type": "quantitative", "scale": {"domain": [0, 9], "nice": false, "zero": false}, "axis": {"title": null, "values": [1,2,3,4,5,6,7,8], "labels": false}},
               "y": {"field": "y", "type": "quantitative", "scale": {"domain": [0, 3500], "nice": false}, "axis": {"title": null, "values": [0,500,1000,1500,2000,2500,3000], "labels": false, "minExtent": 0}},
               "color": {"field": "s", "type": "nominal", "scale": {"domain": ["a","b","c","d"], "range": ["#8e8e8e","#1a1a1a","#9a9a9a","#000000"]}, "legend": null}
             }}
          ]
        }
      ]
    }
  ],
  "config": {
    "font": "DejaVu Sans",
    "view": {"stroke": "#000000", "strokeWidth": 1.5},
    "axis": {"grid": false, "domain": false, "tickColor": "#000000", "tickSize": 5, "offset": -5, "tickWidth": 1.2, "labelFont": "DejaVu Sans", "labelFontSize": 21, "labelFontWeight": "bold", "labelColor": "#000000", "labelPadding": 11},
    "title": {"font": "DejaVu Sans", "fontSize": 21, "fontWeight": "bold", "color": "#000000"}
  }
}
